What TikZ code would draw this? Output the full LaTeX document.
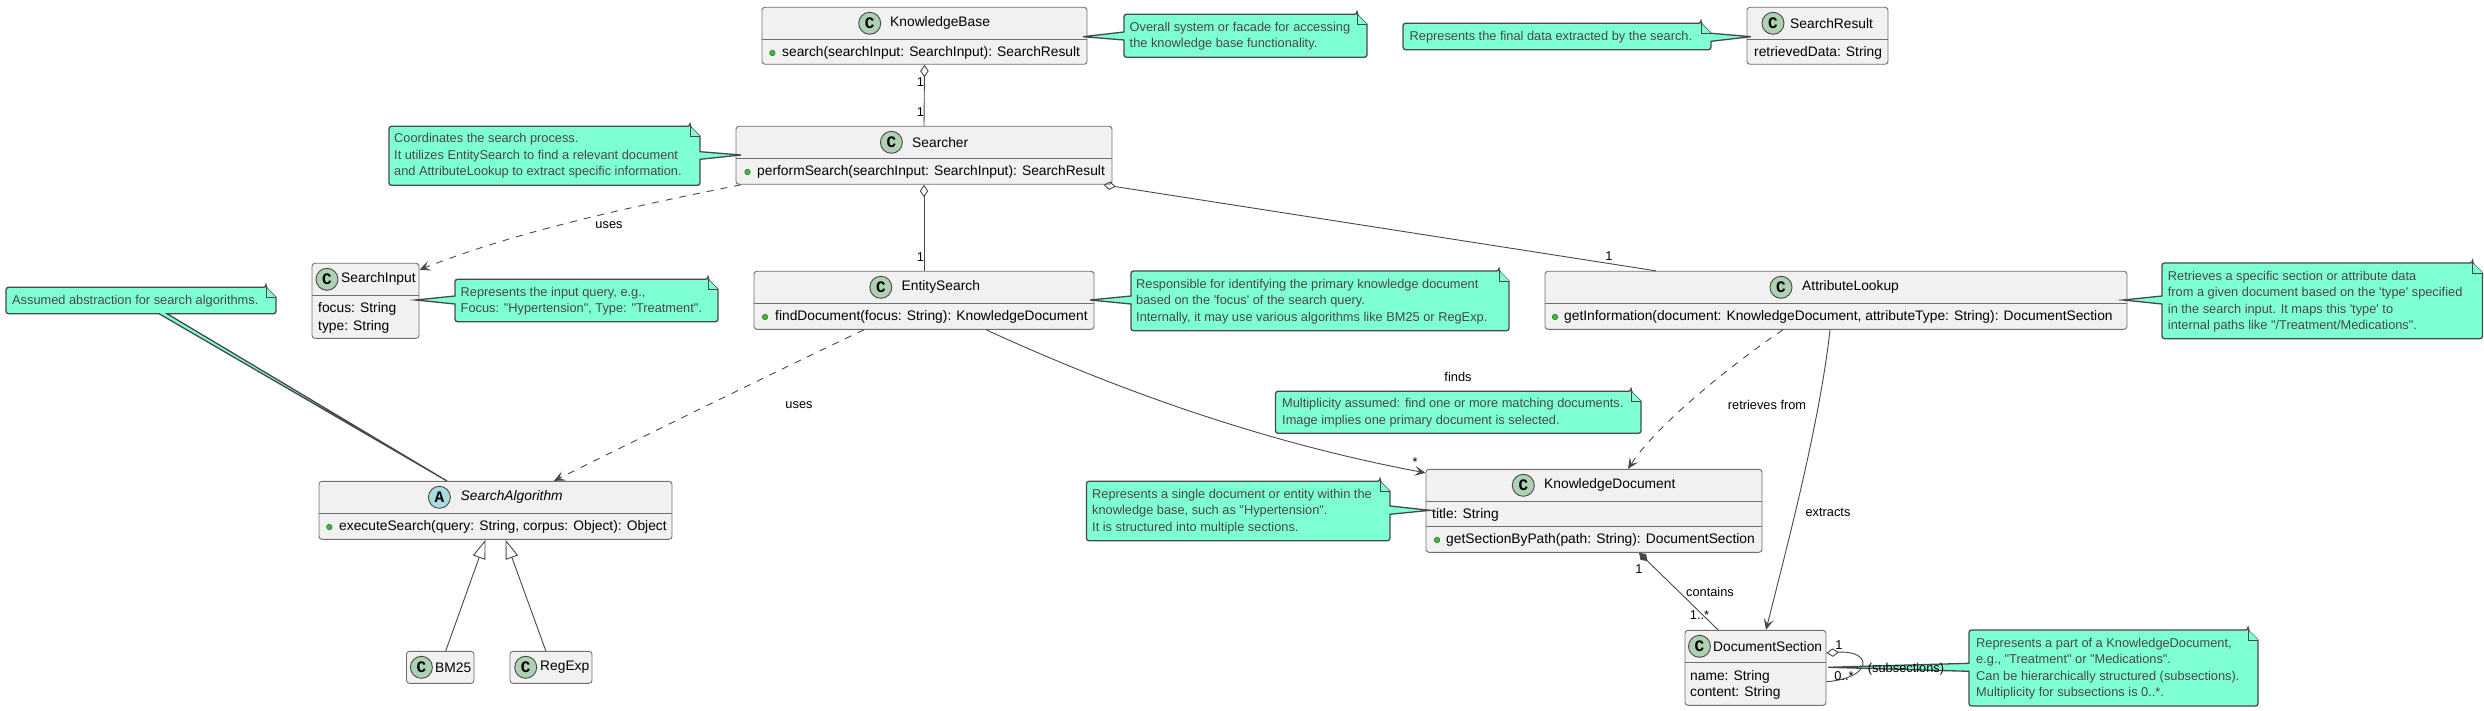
\documentclass[tikz,border=0pt]{standalone}
\usepackage{fontspec}
\usetikzlibrary{arrows.meta}
\newfontfamily\umlfont{Liberation Sans}
\newfontfamily\spotfont{Liberation Mono}
\definecolor{notegreen}{HTML}{7FFFD4}
\definecolor{classgrey}{HTML}{F1F1F1}
\definecolor{linegrey}{HTML}{484848}
\definecolor{rulegrey}{HTML}{707070}
\definecolor{spotgreen}{HTML}{ADD1B2}
\definecolor{spotblue}{HTML}{A9DCDF}
\tikzset{
	classbox/.style 2 args={draw=rulegrey, fill=classgrey, line width=0.9pt, rounded corners=3pt, inner sep=0pt, minimum width=#1pt, minimum height=#2pt},
	rulerline/.style={draw=rulegrey, line width=0.9pt},
	spot/.style={circle, draw=linegrey, line width=0.9pt, fill=spotgreen, inner sep=0pt, minimum size=22pt, font=\spotfont\bfseries\fontsize{16}{16}\selectfont},
	classname/.style={anchor=west, inner sep=0pt, font=\umlfont\fontsize{13.8}{16.5}\selectfont},
	member/.style={anchor=west, inner sep=0pt, font=\umlfont\fontsize{13.8}{16.5}\selectfont},
	methoddot/.style={circle, draw=green!50!black, fill=green!55!black!70, line width=0.5pt, inner sep=0pt, minimum size=5.5pt},
	notetext/.style={anchor=west, align=left, inner sep=0pt, text=linegrey, font=\umlfont\fontsize{12.8}{16.5}\selectfont},
	edgelabel/.style={inner sep=0pt, font=\umlfont\fontsize{12.8}{15}\selectfont},
	noteline/.style={draw=linegrey, fill=notegreen, line width=1.3pt, line join=miter},
	assoc/.style={draw=linegrey, line width=0.9pt},
	uses/.style={assoc, dashed, dash pattern=on 7pt off 7pt, -{Stealth[length=11pt, width=10pt, inset=5pt]}},
	navig/.style={assoc, -{Stealth[length=11pt, width=10pt, inset=5pt]}},
	aggr/.style={assoc, {Diamond[open, length=12.5pt, width=8.5pt]}-},
	compos/.style={assoc, {Diamond[length=12pt, width=8pt]}-},
	inherit/.style={assoc, {Triangle[open, length=19pt, width=13pt]}-},
}
% args: left, top, right, bottom, then the tail on the right, bottom or left side
\newcommand{\notebox}[7]{
	\filldraw[noteline] (#3-10,#2) -- (#3,#2+10) #5 [rounded corners=2.5pt] -- (#3,#4) [sharp corners] #6 [rounded corners=2.5pt] -- (#1,#4) [sharp corners] #7 [rounded corners=2.5pt] -- (#1,#2) -- (#3-10,#2) -- cycle;
	\draw[noteline, line width=0.8pt] (#3-10,#2) -- (#3-10,#2+10) -- (#3,#2+10);
}
\newcommand{\headrule}[2]{\draw[rulerline] (#1.west |- 0,#2) -- (#1.east |- 0,#2);}
\begin{document}
\begin{tikzpicture}[x=1pt, y=-1pt]
	\useasboundingbox (0,0) rectangle (2484,711);
%	classes
	\node [classbox={325}{57}] (kb) at (924.5,35.8) {};
	\headrule{kb}{39.3}
	\node [spot] (kbspot) at (869.7,23.3) {C};
	\node [classname] (kbname) at (890,23.3) {KnowledgeBase};
	\node [methoddot] (kbdot) at (772.4,53) {};
	\node [member] (kbsearch) at (782,53) {search(searchInput: SearchInput): SearchResult};

	\node [classbox={376}{58}] (searcher) at (924,155.3) {};
	\headrule{searcher}{158.3}
	\node [spot] (searcherspot) at (891.4,142.3) {C};
	\node [classname] (searchername) at (912,142.3) {Searcher};
	\node [methoddot] (searcherdot) at (747.5,172) {};
	\node [member] (searcherperform) at (757,172) {performSearch(searchInput: SearchInput): SearchResult};

	\node [classbox={107}{75}] (input) at (365.5,300.8) {};
	\headrule{input}{295.3}
	\node [spot] (inputspot) at (327,279.3) {C};
	\node [classname] (inputname) at (341,279.3) {SearchInput};
	\node [member, align=left] (inputfields) at (318,318) {focus: String\\[0.8pt]type: String};

	\node [classbox={340}{58}] (entity) at (924,300.3) {};
	\headrule{entity}{303.3}
	\node [spot] (entityspot) at (880.8,287.3) {C};
	\node [classname] (entityname) at (901.5,287.3) {EntitySearch};
	\node [methoddot] (entitydot) at (765,317) {};
	\node [member] (entityfind) at (775,317) {findDocument(focus: String): KnowledgeDocument};

	\node [classbox={582}{58}] (attr) at (1836,300.3) {};
	\headrule{attr}{303.3}
	\node [spot] (attrspot) at (1781,287.3) {C};
	\node [classname] (attrname) at (1802,287.3) {AttributeLookup};
	\node [methoddot] (attrdot) at (1555,317) {};
	\node [member] (attrget) at (1564,317) {getInformation(document: KnowledgeDocument, attributeType: String): DocumentSection};

	\node [classbox={141}{57}] (result) at (1817.5,35.8) {};
	\headrule{result}{39.3}
	\node [spot] (resultspot) at (1773,23.3) {C};
	\node [classname] (resultname) at (1790,23.3) {SearchResult};
	\node [member] (resultdata) at (1754,53) {retrievedData: String};

	\node [classbox={353}{58}] (algo) at (495.5,510.3) {};
	\headrule{algo}{513.3}
	\node [spot, fill=spotblue] (algospot) at (439.4,497.3) {A};
	\node [classname, font=\umlfont\itshape\fontsize{13.8}{16.5}\selectfont] (alganame) at (460.5,497.3) {SearchAlgorithm};
	\node [methoddot] (algodot) at (329.3,527) {};
	\node [member] (algoexec) at (339,527) {executeSearch(query: String, corpus: Object): Object};

	\node [classbox={67.5}{32}] (bm) at (440.25,667.3) {};
	\node [spot] (bmspot) at (421.4,667.3) {C};
	\node [classname] (bmname) at (435,667.3) {BM25};

	\node [classbox={82}{32}] (regexp) at (551,667.3) {};
	\node [spot] (regexpspot) at (525.7,667.3) {C};
	\node [classname] (regexpname) at (540,667.3) {RegExp};

	\node [classbox={336}{83}] (doc) at (1594,510.8) {};
	\headrule{doc}{501.3}
	\headrule{doc}{526.3}
	\node [spot] (docspot) at (1523.3,485.3) {C};
	\node [classname] (docname) at (1544,485.3) {KnowledgeDocument};
	\node [member] (doctitle) at (1432,515) {title: String};
	\node [methoddot] (docdot) at (1437,540) {};
	\node [member] (docget) at (1446,540) {getSectionByPath(path: String): DocumentSection};

	\node [classbox={141}{75}] (section) at (1755.5,667.8) {};
	\headrule{section}{662.3}
	\node [spot] (sectionspot) at (1699.5,646.3) {C};
	\node [classname] (sectionname) at (1713,646.3) {DocumentSection};
	\node [member, align=left] (sectionfields) at (1690,685) {name: String\\content: String};

%	connectors
	\draw [aggr] (kb.south) -- (searcher.north);
	\draw [aggr] (searcher.south) -- (entity.north);
	\draw [aggr] ([xshift=-9pt]searcher.south east) -- ([xshift=-180pt]attr.north);
	\draw [uses] ([xshift=-183pt]searcher.south) .. controls (640,205) and (520,230) .. ([yshift=-7pt]input.north east);
	\draw [uses] ([xshift=-60pt]entity.south) .. controls (790,365) and (650,433) .. ([xshift=58.5pt]algo.north);
	\draw [navig] ([xshift=62pt]entity.south) .. controls (1100,382) and (1250,440) .. ([yshift=-4pt]doc.north west);
	\draw [uses] ([xshift=-53pt]attr.south) .. controls (1745,355) and (1660,420) .. ([xshift=34pt]doc.north);
	\draw [navig] ([xshift=-6pt]attr.south) .. controls (1820,420) and (1790,535) .. ([xshift=10.5pt]section.north);
	\draw [compos] ([xshift=45pt]doc.south) -- ([xshift=-37.5pt]section.north);
	\draw [inherit] ([xshift=-10pt]algo.south) -- ([xshift=5.5pt]bm.north);
	\draw [inherit] ([xshift=10pt]algo.south) -- ([xshift=-5.2pt]regexp.north);
	\draw [aggr] ([yshift=14.8pt]section.east) .. controls (1873,650) and (1873,678) .. ([yshift=-13.9pt]section.east);

%	notes
	\coordinate (kbtip) at (1083,36.7);
	\notebox{1124}{14.3}{1367}{57.3}{}{}{-- (1124,40) -- (kbtip) -- (1124,32)}
	\node [notetext] (kbnote) at (1129.5,36) {Overall system or facade for accessing\\the knowledge base functionality.};

	\coordinate (resulttip) at (1751,36.7);
	\notebox{1403}{23.3}{1711}{49.7}{-- (1711,33.3) -- (resulttip) -- (1711,41.3)}{}{}
	\node [notetext] (resultnote) at (1409.5,36.7) {Represents the final data extracted by the search.};

	\coordinate (searchertip) at (741,155);
	\notebox{389}{126.3}{700}{185.3}{-- (700,151.7) -- (searchertip) -- (700,159.3)}{}{}
	\node [notetext] (searchernote) at (394,156) {Coordinates the search process.\\It utilizes EntitySearch to find a relevant document\\and AttributeLookup to extract specific information.};

	\coordinate (inputtip) at (415.5,300);
	\notebox{455}{279.3}{718}{321.7}{}{}{-- (455,304) -- (inputtip) -- (455,296)}
	\node [notetext] (inputnote) at (460.5,301) {Represents the input query, e.g.,\\Focus: "Hypertension", Type: "Treatment".};

	\coordinate (algotip) at (447,481);
	\notebox{6}{287.3}{276}{313.7}{}{-- (167,313.7) -- (algotip) -- (159,313.7)}{}
	\node [notetext] (algonote) at (12,301.5) {Assumed abstraction for search algorithms.};

	\coordinate (entitytip) at (1090,300);
	\notebox{1131}{271}{1509}{330.7}{}{}{-- (1131,304) -- (entitytip) -- (1131,296)}
	\node [notetext] (entitynote) at (1136,301.5) {Responsible for identifying the primary knowledge document\\based on the 'focus' of the search query.\\Internally, it may use various algorithms like BM25 or RegExp.};

	\coordinate (attrtip) at (2123,300);
	\notebox{2162}{263}{2482.5}{338.7}{}{}{-- (2162,304) -- (attrtip) -- (2162,296)}
	\node [notetext] (attrnote) at (2167.7,301.5) {Retrieves a specific section or attribute data\\from a given document based on the 'type' specified\\in the search input. It maps this 'type' to\\internal paths like "/Treatment/Medications".};

	\notebox{1275.5}{391.3}{1641}{433.3}{}{}{}
	\node [notetext] (findnote) at (1282,412.5) {Multiplicity assumed: find one or more matching documents.\\Image implies one primary document is selected.};

	\coordinate (doctip) at (1430,510.3);
	\notebox{1086.5}{481.3}{1390}{540.7}{-- (1390,506) -- (doctip) -- (1390,514.3)}{}{}
	\node [notetext] (docnote) at (1092,511.5) {Represents a single document or entity within the\\knowledge base, such as "Hypertension".\\It is structured into multiple sections.};

	\coordinate (sectiontip) at (1828,667.3);
	\notebox{1969}{630}{2258}{706}{}{}{-- (1969,671.3) -- (sectiontip) -- (1969,663.3)}
	\node [notetext] (sectionnote) at (1976,668.5) {Represents a part of a KnowledgeDocument,\\e.g., "Treatment" or "Medications".\\Can be hierarchically structured (subsections).\\Multiplicity for subsections is 0..*.};

%	connector labels
	\node [edgelabel] (kbone) at (920.5,81.7) {1};
	\node [edgelabel] (searcherone) at (920.5,111.7) {1};
	\node [edgelabel] (entityone) at (920.5,256.7) {1};
	\node [edgelabel] (attrone) at (1609,255.7) {1};
	\node [edgelabel] (usesinput) at (609,225) {uses};
	\node [edgelabel] (usesalgo) at (799,405) {uses};
	\node [edgelabel] (finds) at (1458,377) {finds};
	\node [edgelabel] (findstar) at (1415,462) {*};
	\node [edgelabel] (retrieves) at (1767,405) {retrieves from};
	\node [edgelabel] (extracts) at (1828,512) {extracts};
	\node [edgelabel] (contains) at (1710,591.7) {contains};
	\node [edgelabel] (docone) at (1639,569) {1};
	\node [edgelabel] (sectionmany) at (1699.5,615) {1..*};
	\node [edgelabel] (loopone) at (1839,645) {1};
	\node [edgelabel] (loopmany) at (1844,676) {0..*};
	\node [edgelabel] (loopname) at (1906,669) {(subsections)};
\end{tikzpicture}
\end{document}
